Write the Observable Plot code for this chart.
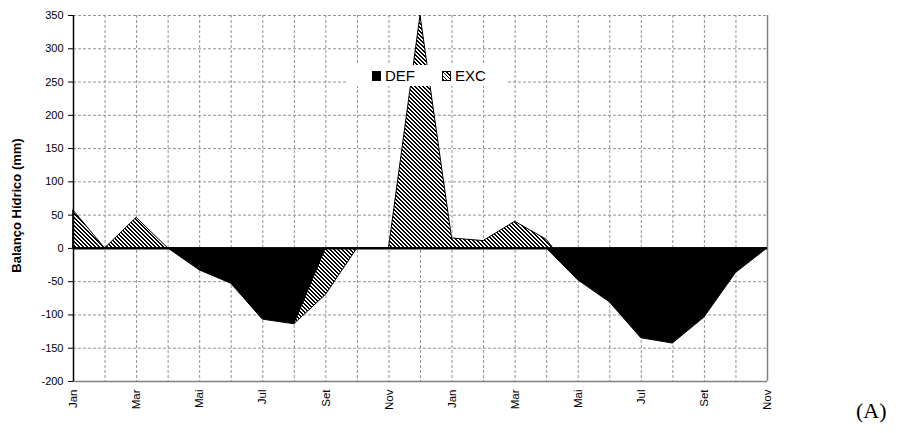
<!DOCTYPE html>
<html><head><meta charset="utf-8">
<script src="https://cdn.jsdelivr.net/npm/d3@7"></script>
<script src="https://cdn.jsdelivr.net/npm/@observablehq/plot@0.6"></script>
<style>
body{margin:0;background:#fff;font-family:"Liberation Sans",Arial,sans-serif;}
#wrap{position:relative;width:902px;height:433px;overflow:hidden;}
#legend{position:absolute;left:347px;top:65px;width:161px;height:21px;background:#fff;font-size:15px;line-height:21px;color:#000;}
#legend .sw{position:absolute;top:6px;width:9px;height:10px;box-sizing:border-box;}
#legend .lbl{position:absolute;top:0;}
#tag{position:absolute;left:856px;top:398px;font-family:"Liberation Serif","Times New Roman",serif;font-size:22px;color:#000;}
</style></head><body><div id="wrap"></div>
<script>
const months = ["Jan","Fev","Mar","Abr","Mai","Jun","Jul","Ago","Set","Out","Nov","Dez","Jan","Fev","Mar","Abr","Mai","Jun","Jul","Ago","Set","Out","Nov"];
const def = [0,0,0,0,-33,-53,-107,-114,0,0,0,0,0,0,0,0,-48,-81,-135,-143,-104,-37,0];
const exc = [57,0,46,0,0,0,0,-114,-70,0,0,350,15,11,40,13,-48,0,0,0,0,0,0];
const yTicks = [-200,-150,-100,-50,0,50,100,150,200,250,300,350];
const xTickIdx = [0,2,4,6,8,10,12,14,16,18,20,22];
const yLabel = "Balanço Hídrico (mm)";

const rows = months.map((m,i)=>({i, m, def:def[i], exc:exc[i]}));

const chart = Plot.plot({
  width: 902, height: 433,
  marginLeft: 73, marginRight: 135, marginTop: 15, marginBottom: 52,
  style: {fontFamily: "'Liberation Sans', Arial, sans-serif", fontSize: "11px", background: "#fff"},
  x: {type: "linear", domain: [0, months.length - 1]},
  y: {domain: [-200, 350]},
  marks: [
    Plot.ruleY(yTicks, {stroke: "#929292", strokeDasharray: "3,2", strokeWidth: 1}),
    Plot.ruleX(d3.range(months.length), {stroke: "#929292", strokeDasharray: "3,2", strokeWidth: 1}),
    Plot.ruleX([months.length - 1], {stroke: "#808080", strokeWidth: 1.5}),
    Plot.ruleY([-200], {stroke: "#808080", strokeWidth: 1.5}),
    Plot.areaY(rows, {x: "i", y: "exc", fill: "url(#hatch)", stroke: "#000", strokeWidth: 1}),
    Plot.areaY(rows, {x: "i", y: "def", fill: "#000", stroke: "#000", strokeWidth: 1}),
    Plot.ruleY([0], {stroke: "#000", strokeWidth: 2}),
    Plot.ruleX([0], {stroke: "#000", strokeWidth: 1.5}),
    Plot.axisY(yTicks, {tickFormat: d => String(d), tickSize: 5, tickPadding: 5, fontSize: 11, label: null, stroke: "#000"}),
    Plot.axisX(xTickIdx, {tickFormat: i => months[i], tickRotate: -90, tickSize: 0, tickPadding: 8, fontSize: 11.5, label: null}),
    Plot.text([yLabel], {frameAnchor: "left", textAnchor: "middle", rotate: -90, dx: -57, dy: 7, fontWeight: "bold", fontSize: 13})
  ]
});

const svg = d3.select(chart);
const defs = svg.insert("defs", ":first-child");
const pat = defs.append("pattern").attr("id", "hatch").attr("patternUnits", "userSpaceOnUse")
  .attr("width", 4).attr("height", 4);
pat.append("rect").attr("width", 4).attr("height", 4).attr("fill", "#fff");
for (let r = 0; r < 4; r++) {
  for (const c of [r, (r + 1) % 4]) {
    pat.append("rect").attr("x", c).attr("y", r).attr("width", 1).attr("height", 1)
      .attr("fill", "#000").attr("shape-rendering", "crispEdges");
  }
}

const wrap = document.getElementById("wrap");
wrap.appendChild(chart);

const legend = document.createElement("div");
legend.id = "legend";
legend.innerHTML = '<div class="sw" style="left:25px;background:#000"></div><span class="lbl" style="left:38px">DEF</span>' +
  '<div class="sw" style="left:95px;border:1px solid #000;background:repeating-linear-gradient(45deg,#000 0 1px,#fff 1px 2.5px)"></div><span class="lbl" style="left:108px">EXC</span>';
wrap.appendChild(legend);

const tag = document.createElement("div");
tag.id = "tag";
tag.textContent = "(A)";
wrap.appendChild(tag);
</script>
</body></html>
